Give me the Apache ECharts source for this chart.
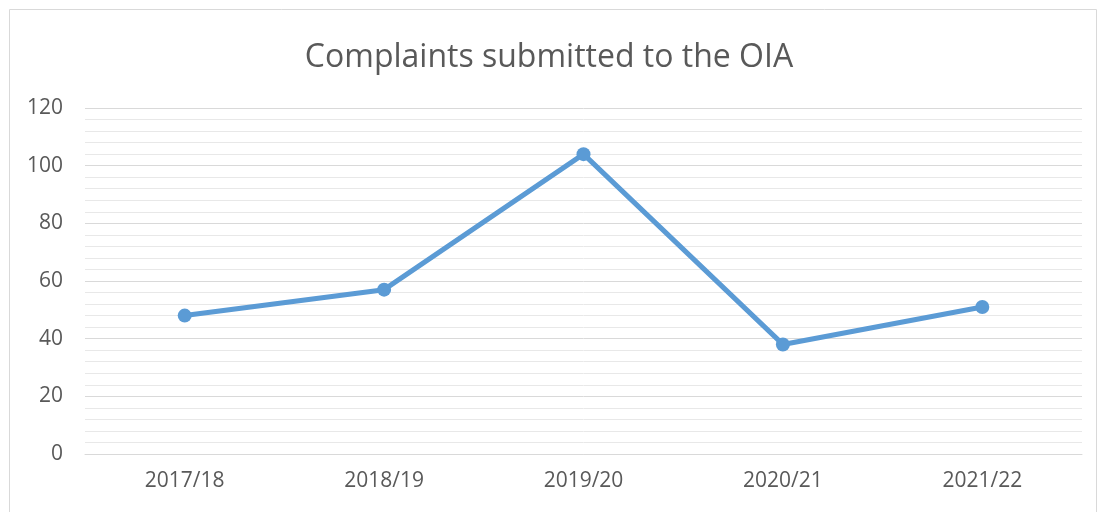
<!DOCTYPE html>
<html>
<head>
<meta charset="utf-8">
<script src="https://cdn.jsdelivr.net/npm/echarts@6/dist/echarts.min.js"></script>
<style>
  html, body { margin: 0; padding: 0; background: #fff; }
  #chart { width: 1098px; height: 512px; }
</style>
</head>
<body>
<div id="chart"></div>
<script>
const years = ['2017/18', '2018/19', '2019/20', '2020/21', '2021/22'];
const complaints = [48, 57, 104, 38, 51];
const titleText = 'Complaints submitted to the OIA';

const chart = echarts.init(document.getElementById('chart'));
chart.setOption({
  animation: false,
  title: {
    text: titleText,
    left: 'center',
    top: 37,
    textStyle: { fontFamily: 'Open Sans', fontWeight: 'normal', fontSize: 32, color: '#595959' }
  },
  graphic: [{
    type: 'rect',
    shape: { x: 9.5, y: 9.5, width: 1087, height: 520 },
    style: { fill: 'none', stroke: '#d9d9d9', lineWidth: 1 },
    silent: true
  }],
  grid: { left: 85, right: 16, top: 108, bottom: 58 },
  xAxis: {
    type: 'category',
    data: years,
    axisLine: { lineStyle: { color: '#d9d9d9' } },
    axisTick: { show: false },
    axisLabel: { color: '#595959', fontSize: 21, fontFamily: 'Open Sans', margin: 17 }
  },
  yAxis: {
    type: 'value',
    min: 0,
    max: 120,
    interval: 20,
    axisLine: { show: false },
    axisTick: { show: false },
    axisLabel: { color: '#595959', fontSize: 21, fontFamily: 'Open Sans', margin: 22 },
    splitLine: { lineStyle: { color: '#d9d9d9', width: 1 } },
    minorTick: { show: false, splitNumber: 5 },
    minorSplitLine: { show: true, lineStyle: { color: '#e8e8e8', width: 1 } }
  },
  series: [{
    type: 'line',
    data: complaints,
    symbol: 'circle',
    symbolSize: 14,
    lineStyle: { color: '#5b9bd5', width: 5 },
    itemStyle: { color: '#5b9bd5' }
  }]
});
</script>
</body>
</html>
